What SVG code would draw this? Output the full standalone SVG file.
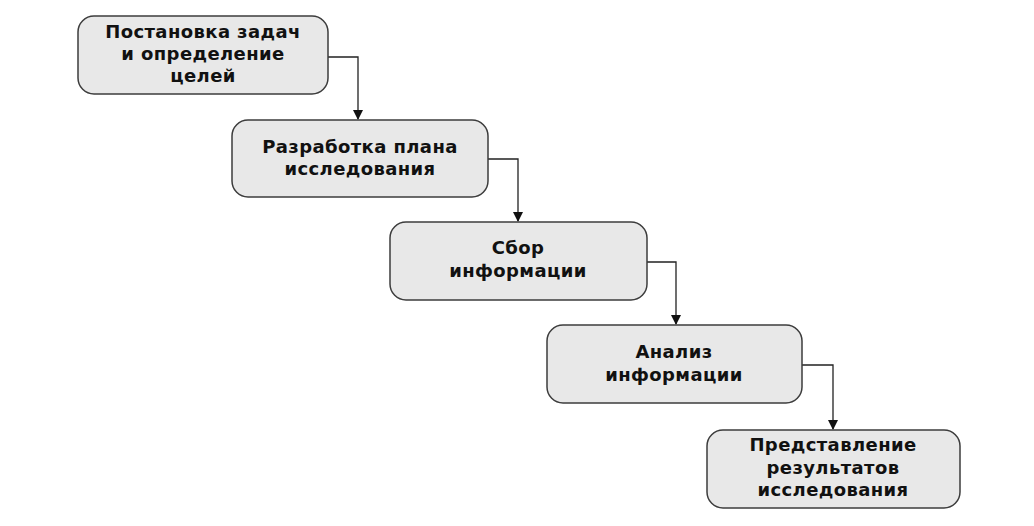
<svg xmlns="http://www.w3.org/2000/svg" width="1034" height="526" viewBox="0 0 1034 526">
<style>
.box{fill:#e8e8e8;stroke:#3c3c3c;stroke-width:1.5}
.t{font-family:"DejaVu Sans",sans-serif;font-weight:bold;font-size:18px;letter-spacing:0.4px;fill:#111;text-anchor:middle}
.c{fill:none;stroke:#222;stroke-width:1.3}
</style>
<defs>
<marker id="ah" markerWidth="10" markerHeight="10" refX="9" refY="5" orient="auto" markerUnits="userSpaceOnUse">
<path d="M0,0 L10,5 L0,10 Z" fill="#111"/>
</marker>
</defs>
<rect width="1034" height="526" fill="#fff"/>
<g id="connectors">
<path class="c" d="M328,57 H358 V119" marker-end="url(#ah)"/>
<path class="c" d="M488,159 H518 V221" marker-end="url(#ah)"/>
<path class="c" d="M647,262 H676 V324" marker-end="url(#ah)"/>
<path class="c" d="M802,365 H833 V429" marker-end="url(#ah)"/>
</g>
<g id="n1"><rect class="box" x="78" y="16" width="250" height="78" rx="16"/>
<text class="t" x="203" y="38">Постановка задач</text><text class="t" x="203" y="60">и определение</text><text class="t" x="203" y="82">целей</text></g>
<g id="n2"><rect class="box" x="232" y="120" width="256" height="77" rx="16"/>
<text class="t" x="360" y="153">Разработка плана</text><text class="t" x="360" y="175">исследования</text></g>
<g id="n3"><rect class="box" x="390" y="222" width="257" height="78" rx="16"/>
<text class="t" x="518" y="254">Сбор</text><text class="t" x="518" y="277">информации</text></g>
<g id="n4"><rect class="box" x="547" y="325" width="255" height="78" rx="16"/>
<text class="t" x="674" y="358">Анализ</text><text class="t" x="674" y="381">информации</text></g>
<g id="n5"><rect class="box" x="707" y="430" width="253" height="78" rx="16"/>
<text class="t" x="833" y="451">Представление</text><text class="t" x="833" y="474">результатов</text><text class="t" x="833" y="496">исследования</text></g>
</svg>
